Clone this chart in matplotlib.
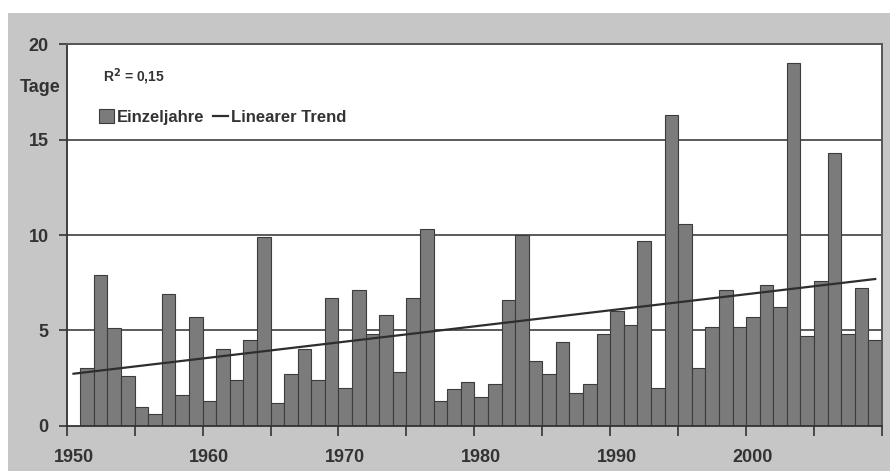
import numpy as np
import matplotlib
matplotlib.use("Agg")
import matplotlib.pyplot as plt
from matplotlib.patches import Rectangle
from matplotlib.lines import Line2D

plt.rcParams['font.family'] = ['Liberation Sans', 'DejaVu Sans']
plt.rcParams['font.weight'] = 'bold'

years = list(range(1951, 2010))
tage = [3.0, 7.9, 5.1, 2.6, 1.0, 0.6, 6.9, 1.6, 5.7, 1.3,
        4.0, 2.4, 4.5, 9.9, 1.2, 2.7, 4.0, 2.4, 6.7, 2.0,
        7.1, 4.8, 5.8, 2.8, 6.7, 10.3, 1.3, 1.9, 2.3, 1.5,
        2.2, 6.6, 10.0, 3.4, 2.7, 4.4, 1.7, 2.2, 4.8, 6.0,
        5.3, 9.7, 2.0, 16.3, 10.6, 3.0, 5.2, 7.1, 5.2, 5.7,
        7.4, 6.2, 19.0, 4.7, 7.6, 14.3, 4.8, 7.2, 4.5]
year_labels = [1950, 1960, 1970, 1980, 1990, 2000]
y_ticks = [0, 5, 10, 15, 20]
r2_text = "R$^2$ = 0,15"

W, H = 890, 471
fig = plt.figure(figsize=(W / 100, H / 100), dpi=100)
fig.patch.set_facecolor('white')
# grey panel background
fig.patches.append(Rectangle((8 / W, 0), 1 - 8 / W, 1 - 13 / H, transform=fig.transFigure,
                             facecolor='#c6c6c6', edgecolor='none', zorder=-10))

ax = fig.add_axes([66.7 / W, 1 - 425.7 / H, (882 - 66.7) / W, (425.7 - 44.3) / H])
ax.set_facecolor('white')

txt = '#333333'
ax.bar(years, tage, width=1.0, color='#7b7b7b', edgecolor='#3c3c3c', linewidth=0.8, zorder=2)

# linear trend (least squares on the data), drawn across all categories 1950-2009
coef = np.polyfit(years, tage, 1)
tx = np.array([1950, 2009])
ax.plot(tx, np.polyval(coef, tx), color='#2e2e2e', linewidth=1.6, zorder=3)

ax.set_xlim(1949.5, 2009.5)
ax.set_ylim(0, 20)

for v in y_ticks[1:]:
    ax.axhline(v, color='#5a5a5a', linewidth=1.4, zorder=1)

ax.set_yticks(y_ticks)
ax.set_yticklabels([str(v) for v in y_ticks], fontsize=13, fontweight='bold', color=txt)
ax.tick_params(axis='y', direction='out', length=6, width=1.2, color='#333333', pad=7)

ax.set_xticks(np.arange(1949.5, 2010, 5))
ax.set_xticklabels([])
ax.tick_params(axis='x', which='major', direction='out', length=7, width=1.2, color='#333333')
ax.set_xticks(year_labels, minor=True)
ax.set_xticklabels([str(y) for y in year_labels], minor=True, fontsize=13, fontweight='bold', color=txt)
ax.tick_params(axis='x', which='minor', length=0, pad=17)

for s in ['left', 'bottom']:
    ax.spines[s].set_color('#333333')
    ax.spines[s].set_linewidth(1.3)
for s in ['top', 'right']:
    ax.spines[s].set_color('#555555')
    ax.spines[s].set_linewidth(1.4)

fig.text(40 / W, 1 - 88 / H, 'Tage', fontsize=13, fontweight='bold', color=txt, ha='center', va='center')
fig.text(103 / W, 1 - 77 / H, r2_text, fontsize=10, fontweight='bold', color=txt, ha='left', va='center')

handles = [Rectangle((0, 0), 1, 1, facecolor='#7b7b7b', edgecolor='#3c3c3c', linewidth=0.8),
           Line2D([0], [0], color='#2e2e2e', linewidth=1.6)]
leg = ax.legend(handles, ['Einzeljahre', 'Linearer Trend'], ncol=2, frameon=False,
                loc='center left', bbox_to_anchor=(32 / (882 - 66.7), 1 - (117 - 44.3) / (425.7 - 44.3)),
                handlelength=0.9, handleheight=0.9, handletextpad=0.2, columnspacing=0.5,
                borderaxespad=0, borderpad=0,
                prop={'size': 12, 'weight': 'bold'})
for t in leg.get_texts():
    t.set_color(txt)

fig.savefig('out.png', dpi=100, facecolor=fig.get_facecolor())
